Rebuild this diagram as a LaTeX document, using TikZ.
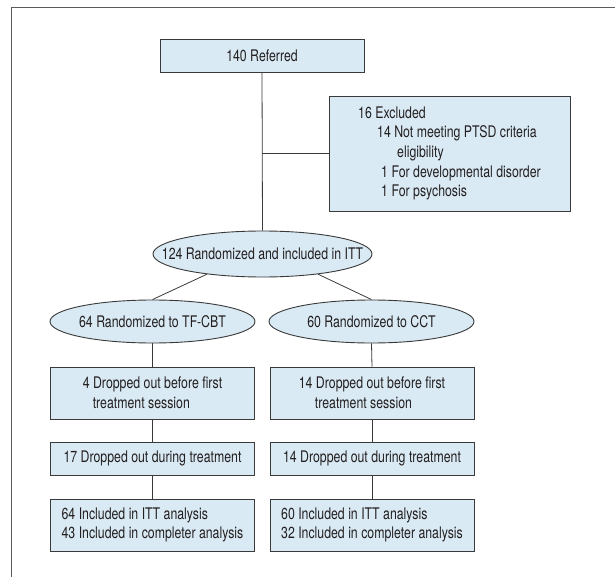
\documentclass[tikz,border=0pt]{standalone}
\usepackage{fontspec}
\setmainfont{TeX Gyre Heros}[FakeStretch=0.77]
\usetikzlibrary{shapes.geometric}
\definecolor{boxfill}{HTML}{D9EAF4}
\definecolor{edgec}{HTML}{3A3A3A}
\definecolor{txt}{HTML}{231F20}
\definecolor{framec}{HTML}{5A5A5A}
\begin{document}
\begin{tikzpicture}[x=1pt,y=-1pt,
  font=\fontsize{16}{19.7}\selectfont,
  every node/.style={text=txt},
  box/.style={draw=edgec, fill=boxfill, line width=0.9pt, rectangle, inner sep=0pt, minimum width=204pt, align=left},
  oval/.style={draw=edgec, fill=boxfill, line width=0.9pt, ellipse, inner sep=0pt, inner xsep=-30pt},
  conn/.style={draw=edgec, line width=0.8pt}]
\useasboundingbox (0,0) rectangle (615,577);
\draw[line width=1.2pt, draw=framec] (615,7.5) -- (11.5,7.5) -- (11.5,577);

\node[box, minimum height=33pt] (ref) at (262,55.5) {140 Referred};
\node[box, minimum width=241pt, minimum height=115pt] (exc) at (449.5,153.5)
  {16 Excluded\\
   \hspace*{19pt}14 Not meeting PTSD criteria\\
   \hspace*{39pt}eligibility\\
   \hspace*{23pt}1 For developmental disorder\\
   \hspace*{23pt}1 For psychosis};

\node[oval, minimum width=219pt, minimum height=46pt] (itt) at (262.5,254) {124 Randomized and included in ITT};
\node[oval, minimum width=205pt, minimum height=43pt] (tf) at (152.5,321.5) {64 Randomized to TF-CBT};
\node[oval, minimum width=205pt, minimum height=43pt] (cct) at (371.5,321.5) {60 Randomized to CCT};

\node[box, minimum height=52pt] (l1) at (152.5,393) {4 Dropped out before first\\\hspace*{10pt}treatment session};
\node[box, minimum height=52pt] (r1) at (372,393) {14 Dropped out before first\\\hspace*{16pt}treatment session};
\node[box, minimum height=33pt] (l2) at (152.5,458.5) {17 Dropped out during treatment};
\node[box, minimum height=33pt] (r2) at (372,458.5) {14 Dropped out during treatment};
\node[box, minimum height=52pt] (l3) at (152.5,525) {64 Included in ITT analysis\\43 Included in completer analysis};
\node[box, minimum height=52pt] (r3) at (372,525) {60 Included in ITT analysis\\32 Included in completer analysis};

\draw[conn] (ref.south) -- (itt.north);
\draw[conn] (exc.west) -- (exc.west -| ref.south);
\draw[conn] (itt.200) -- (tf.north);
\draw[conn] (itt.340) -- (cct.north);
\draw[conn] (tf.south) -- (l1.north);
\draw[conn] (l1.south) -- (l2.north);
\draw[conn] (l2.south) -- (l3.north);
\draw[conn] (cct.south) -- (r1.north);
\draw[conn] (r1.south) -- (r2.north);
\draw[conn] (r2.south) -- (r3.north);
\end{tikzpicture}
\end{document}
